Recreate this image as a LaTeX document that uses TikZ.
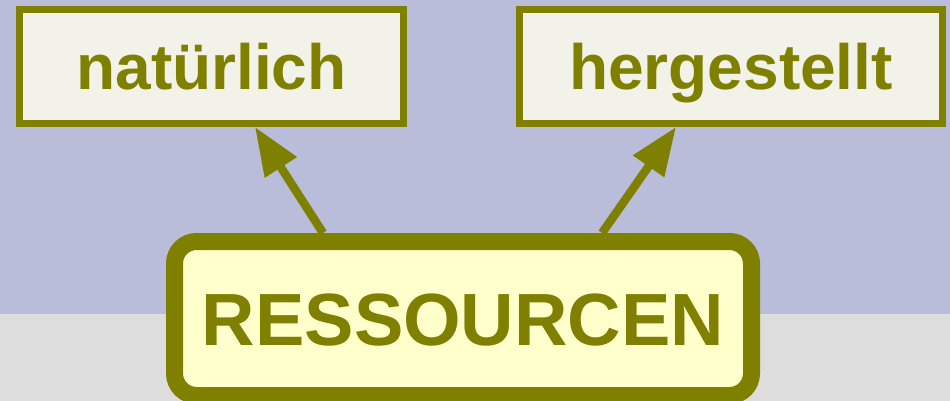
\documentclass[tikz,border=0pt]{standalone}
\usepackage{fontspec}
\setmainfont{Liberation Sans}
\usetikzlibrary{arrows.meta}

\definecolor{olive}{HTML}{808000}
\definecolor{lavender}{HTML}{B9BDD9}
\definecolor{floor}{HTML}{DDDDDD}
\definecolor{paper}{HTML}{F2F2E8}
\definecolor{cream}{HTML}{FFFFCC}

\begin{document}
\begin{tikzpicture}[x=1pt, y=-1pt,
        kind/.style={draw=olive, line width=7pt, fill=paper, inner sep=0pt,
            minimum height=114pt, text height=47pt, text depth=0pt,
            text=olive, font=\fontsize{64}{70}\selectfont\bfseries},
        root/.style={draw=olive, line width=17pt, fill=cream, inner sep=0pt,
            rounded corners=22pt, minimum width=577pt, minimum height=154pt,
            text height=53pt, text depth=0pt,
            text=olive, font=\fontsize{74}{80}\selectfont\bfseries},
        arr/.style={draw=olive, line width=8.5pt,
            -{Triangle[length=48pt, width=36pt]}}]

    % Background: sky and floor
    \useasboundingbox (0,0) rectangle (950,401);
    \clip (0,0) rectangle (950,401);
    \fill[lavender] (0,0) rectangle (950,314);
    \fill[floor] (0,314) rectangle (950,401);

    % The two kinds of resources
    \node[kind, minimum width=384pt] (nat) at (211.5,66.5) {natürlich};
    \node[kind, minimum width=423pt] (her) at (731,66.5) {hergestellt};

    % Root box, its lower edge runs off the page
    \node[root] (res) at (463,318.5) {RESSOURCEN};

    % Arrows from root up to the kinds
    \draw[arr] ([xshift=-140pt]res.north) -- ([xshift=43.5pt]nat.south);
    \draw[arr] ([xshift=139pt]res.north) -- ([xshift=-55pt]her.south);

\end{tikzpicture}
\end{document}
